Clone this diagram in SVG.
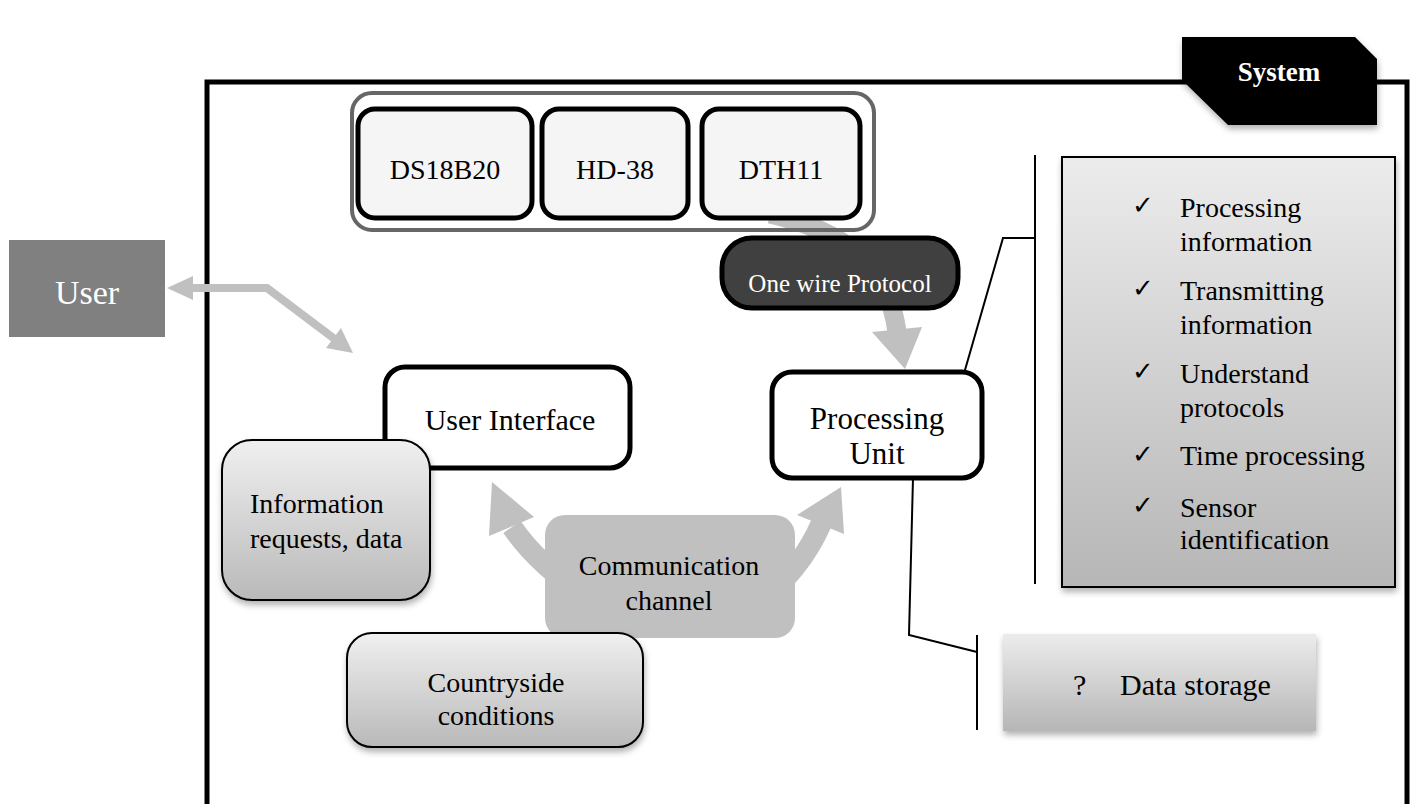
<svg xmlns="http://www.w3.org/2000/svg" width="1417" height="804" viewBox="0 0 1417 804">
  <style>
    .t { font-family: "Liberation Serif", "Times New Roman", serif; fill: #000; }
    .w { fill: #fff; }
    .mid { text-anchor: middle; }
    .box { fill: #fff; stroke: #000; stroke-width: 5; }
    .sensor { fill: #f5f5f5; stroke: #000; stroke-width: 5; }
    .soft { stroke: #000; stroke-width: 2; }
    .conn { fill: none; stroke: #000; stroke-width: 2; }
    .flow { fill: none; stroke: #c0c0c0; }
    .head { fill: #c0c0c0; }
    .chk { font-family: "DejaVu Sans", sans-serif; font-size: 26px; fill: #000; }
  </style>
  <defs>
    <linearGradient id="gFade" x1="0" y1="0" x2="0" y2="1">
      <stop offset="0" stop-color="#f0f0f0"/>
      <stop offset="1" stop-color="#b9b9b9"/>
    </linearGradient>
    <linearGradient id="gList" x1="0" y1="0" x2="0" y2="1">
      <stop offset="0" stop-color="#ececec"/>
      <stop offset="1" stop-color="#b6b6b6"/>
    </linearGradient>
    <filter id="shadow" x="-10%" y="-10%" width="125%" height="130%">
      <feDropShadow dx="1" dy="4" stdDeviation="3" flood-color="#000" flood-opacity="0.3"/>
    </filter>
  </defs>

  <!-- system boundary -->
  <g id="system-frame">
    <path d="M207 804 V82 H1407 V804" fill="none" stroke="#000" stroke-width="5"/>
  </g>

  <!-- connectors -->
  <g id="connectors">
    <!-- user <-> user interface -->
    <polyline class="flow" stroke-width="8" points="190,288 267,288 336,340"/>
    <polygon class="head" points="167,288 193,276 193,300"/>
    <polygon class="head" points="353,353 326,348 341,328"/>
    <!-- sensors -> processing unit -->
    <path class="flow" stroke-width="19" d="M770 214 C840 230 888 262 897 332"/>
    <polygon class="head" points="905,369 872,332 922,327"/>
    <!-- communication channel -> user interface -->
    <path class="flow" stroke-width="21" d="M585 595 Q538 565 512 527"/>
    <polygon class="head" points="492,482 489,536 534,517"/>
    <!-- communication channel -> processing unit -->
    <path class="flow" stroke-width="21" d="M755 605 Q800 572 821 524"/>
    <polygon class="head" points="841,487 797,515 844,534"/>
    <!-- processing unit callouts -->
    <polyline class="conn" points="963,377 1003,238 1035,238"/>
    <line class="conn" x1="1035" y1="155" x2="1035" y2="584"/>
    <polyline class="conn" points="913,478 909,635 977,652"/>
    <line class="conn" x1="977" y1="635" x2="977" y2="730"/>
  </g>

  <!-- system tab -->
  <g id="system-tab">
    <polygon points="1182,37 1355,37 1377,59 1377,125 1228,125 1182,80" fill="#000" filter="url(#shadow)"/>
    <text class="t w mid" x="1279" y="81" font-size="27" font-weight="bold">System</text>
  </g>

  <!-- user -->
  <g id="user">
    <rect x="9" y="240" width="156" height="97" fill="#808080"/>
    <text class="t w mid" x="87" y="304" font-size="34">User</text>
  </g>

  <!-- sensors -->
  <g id="sensor-group">
    <rect x="352" y="93" width="522" height="137" rx="20" fill="none" stroke="#666" stroke-width="4"/>
  </g>
  <g id="ds18b20">
    <rect class="sensor" x="358" y="109" width="174" height="109" rx="17"/>
    <text class="t mid" x="445" y="179" font-size="28">DS18B20</text>
  </g>
  <g id="hd38">
    <rect class="sensor" x="542" y="109" width="146" height="109" rx="17"/>
    <text class="t mid" x="615" y="179" font-size="28">HD-38</text>
  </g>
  <g id="dth11">
    <rect class="sensor" x="702" y="109" width="158" height="109" rx="17"/>
    <text class="t mid" x="781" y="179" font-size="28">DTH11</text>
  </g>

  <!-- protocol -->
  <g id="one-wire">
    <rect x="722" y="238" width="236" height="70" rx="30" fill="#404040" stroke="#000" stroke-width="5"/>
    <text class="t w mid" x="840" y="292" font-size="25">One wire Protocol</text>
  </g>

  <!-- processing unit -->
  <g id="processing-unit">
    <rect class="box" x="772" y="372" width="210" height="106" rx="20"/>
    <text class="t mid" x="877" y="429" font-size="31">Processing</text>
    <text class="t mid" x="877" y="464" font-size="31">Unit</text>
  </g>

  <!-- user interface -->
  <g id="user-interface">
    <rect class="box" x="385" y="367" width="245" height="101" rx="20"/>
    <text class="t mid" x="510" y="430" font-size="30">User Interface</text>
  </g>

  <g id="info-requests">
    <rect class="soft" x="222" y="440" width="208" height="160" rx="30" fill="url(#gFade)" filter="url(#shadow)"/>
    <text class="t" x="250" y="513" font-size="28">Information</text>
    <text class="t" x="250" y="548" font-size="28">requests, data</text>
  </g>

  <!-- communication channel -->
  <g id="communication-channel">
    <rect x="545" y="515" width="250" height="123" rx="20" fill="#c0c0c0"/>
    <text class="t mid" x="669" y="575" font-size="28">Communication</text>
    <text class="t mid" x="669" y="610" font-size="28">channel</text>
  </g>

  <g id="countryside">
    <rect class="soft" x="347" y="633" width="296" height="114" rx="25" fill="url(#gFade)" filter="url(#shadow)"/>
    <text class="t mid" x="496" y="692" font-size="28">Countryside</text>
    <text class="t mid" x="496" y="725" font-size="28">conditions</text>
  </g>

  <!-- capabilities -->
  <g id="capabilities">
    <rect class="soft" x="1062" y="157" width="333" height="430" fill="url(#gList)" filter="url(#shadow)"/>
    <text class="chk" x="1132" y="214">✓</text>
    <text class="t" x="1180" y="217" font-size="28">Processing</text>
    <text class="t" x="1180" y="251" font-size="28">information</text>
    <text class="chk" x="1132" y="297">✓</text>
    <text class="t" x="1180" y="300" font-size="28">Transmitting</text>
    <text class="t" x="1180" y="334" font-size="28">information</text>
    <text class="chk" x="1132" y="380">✓</text>
    <text class="t" x="1180" y="383" font-size="28">Understand</text>
    <text class="t" x="1180" y="417" font-size="28">protocols</text>
    <text class="chk" x="1132" y="463">✓</text>
    <text class="t" x="1180" y="465" font-size="28">Time processing</text>
    <text class="chk" x="1132" y="514">✓</text>
    <text class="t" x="1180" y="517" font-size="28">Sensor</text>
    <text class="t" x="1180" y="549" font-size="28">identification</text>
  </g>

  <!-- storage -->
  <g id="data-storage">
    <rect x="1003" y="634" width="313" height="97" fill="url(#gList)" filter="url(#shadow)"/>
    <text class="t" x="1073" y="695" font-size="30">?</text>
    <text class="t" x="1120" y="695" font-size="30">Data storage</text>
  </g>
</svg>
